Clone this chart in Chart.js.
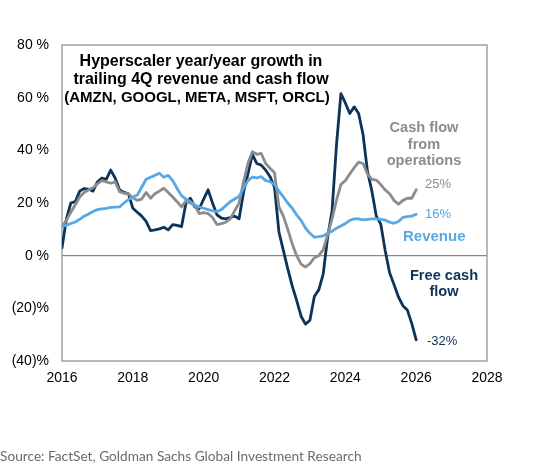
<!DOCTYPE html>
<html>
<head>
<meta charset="utf-8">
<script src="https://cdn.jsdelivr.net/npm/chart.js@4.4.1/dist/chart.umd.min.js"></script>
<style>
  html, body { margin: 0; padding: 0; background: #fff; }
  #wrap { width: 536px; height: 465px; }
</style>
</head>
<body>
<div id="wrap"><canvas id="myChart" width="536" height="465"></canvas></div>
<script>
// dates (fractional years, every 1/8 year)
var years = [
  2016, 2016.125, 2016.25, 2016.375, 2016.5, 2016.625, 2016.75, 2016.875,
  2017, 2017.125, 2017.25, 2017.375, 2017.5, 2017.625, 2017.75, 2017.875,
  2018, 2018.125, 2018.25, 2018.375, 2018.5, 2018.625, 2018.75, 2018.875,
  2019, 2019.125, 2019.25, 2019.375, 2019.5, 2019.625, 2019.75, 2019.875,
  2020, 2020.125, 2020.25, 2020.375, 2020.5, 2020.625, 2020.75, 2020.875,
  2021, 2021.125, 2021.25, 2021.375, 2021.5, 2021.625, 2021.75, 2021.875,
  2022, 2022.125, 2022.25, 2022.375, 2022.5, 2022.625, 2022.75, 2022.875,
  2023, 2023.125, 2023.25, 2023.375, 2023.5, 2023.625, 2023.75, 2023.875,
  2024, 2024.125, 2024.25, 2024.375, 2024.5, 2024.625, 2024.75, 2024.875,
  2025, 2025.125, 2025.25, 2025.375, 2025.5, 2025.625, 2025.75, 2025.875,
  2026
];

// revenue growth, %
var revenue = [
  11, 11.6, 12.2, 12.8, 13.8, 15, 15.8, 16.8,
  17.5, 17.8, 18, 18.3, 18.4, 18.5, 20, 21.3,
  22.3, 23, 26, 29, 29.8, 30.5, 31.3, 29.8,
  30.5, 28.5, 25.5, 22.8, 21.5, 20.5, 19.2, 18.5,
  18, 17.5, 17, 16.7, 17.5, 19, 20.5, 21.5,
  22.5, 25.5, 28.5, 29.8, 29.5, 30, 28.5, 28.1,
  27, 24.5, 22.3, 20, 18, 15.5, 13.4, 10.5,
  8.5, 7, 7.2, 7.5, 8.5, 9.3, 10.4, 11.3,
  12.2, 13.4, 14, 14, 13.6, 13.8, 14, 14,
  13.8, 13.5, 12.7, 12.3, 13, 14.5, 14.8, 15,
  15.7
];

// cash flow from operations growth, %
var cashFlowOps = [
  11, 13.5, 16.5, 19.3, 22.3, 24, 25, 25.8,
  27.3, 28.5, 28, 27.5, 28, 24.3, 23.7, 23.5,
  22, 21, 21.5, 24, 21.8, 23.5, 24.5, 25.6,
  24, 22.3, 20.5, 18.5, 20.8, 20, 19, 16,
  16.3, 16, 14.5, 11.8, 12.2, 12.7, 14, 17,
  20, 28, 35, 39.5, 38.5, 38.8, 35, 33.2,
  31.5, 18.5, 15, 10, 4.5, 0, -3.2, -4.3,
  -3, -0.8, 0, 2.2, 8, 14, 21, 27,
  28.5, 31, 33.4, 35.5, 35, 31, 29, 28.7,
  27, 25, 23.5, 21, 19.5, 21, 21.8, 21.8,
  25
];

// free cash flow growth, %
var freeCashFlow = [
  3, 14, 20, 20.5, 24.5, 25.5, 25.3, 24.5,
  28, 29.5, 29, 32.5, 29.5, 25, 24, 23.5,
  18, 16.5, 15, 13, 9.5, 9.8, 10.2, 10.8,
  9.8, 11.8, 11.5, 11, 20, 21.8, 18.5, 17.8,
  21.5, 25, 20, 15.5, 14.3, 14, 14.5, 15,
  14, 24, 31, 38.5, 35, 34.4, 32.5, 30,
  26, 9, 2, -5, -11.5, -17, -23, -26,
  -24.5, -15.5, -13, -7, 7, 17, 42, 61.5,
  58, 54, 56.5, 54, 46, 32, 24.5, 15,
  12, 2, -6.5, -11, -15.7, -19, -20.6, -25.7,
  -32
];

var yTicks = [-40, -20, 0, 20, 40, 60, 80];
var xTicks = [2016, 2018, 2020, 2022, 2024, 2026, 2028];

var NAVY = '#0c3358';
var GREY = '#8c8c8c';
var BLUE = '#58a8e4';
var ARIAL = '"Liberation Sans", Arial, sans-serif';

function toPoints(vals) {
    return years.map(function (x, i) { return { x: x, y: vals[i] }; });
}

// frame around the plot area + text annotations
var decorations = {
    id: 'decorations',
    beforeDatasetsDraw(chart) {
        var c = chart.ctx, a = chart.chartArea;
        c.save();
        c.strokeStyle = '#8a8a8a';
        c.lineWidth = 1.2;
        c.strokeRect(a.left, a.top, a.right - a.left, a.bottom - a.top);
        c.restore();
    },
    afterDraw(chart) {
        var c = chart.ctx;
        c.save();
        c.textBaseline = 'middle';
        c.textAlign = 'center';

        c.fillStyle = '#000';
        c.font = 'bold 16px ' + ARIAL;
        c.fillText('Hyperscaler year/year growth in', 201, 62);
        c.fillText('trailing 4Q revenue and cash flow', 201, 80);
        c.font = 'bold 15px ' + ARIAL;
        c.fillText('(AMZN, GOOGL, META, MSFT, ORCL)', 197, 98);

        c.fillStyle = GREY;
        c.font = 'bold 14.6px ' + ARIAL;
        c.fillText('Cash flow', 424, 128);
        c.fillText('from', 424, 145);
        c.fillText('operations', 424, 161);

        c.fillStyle = NAVY;
        c.fillText('Free cash', 444, 276);
        c.fillText('flow', 444, 292);

        c.fillStyle = BLUE;
        c.font = 'bold 15px ' + ARIAL;
        c.textAlign = 'left';
        c.fillText('Revenue', 403, 237);

        c.font = '13px ' + ARIAL;
        c.fillStyle = GREY;
        c.fillText('25%', 425, 184);
        c.fillStyle = BLUE;
        c.fillText('16%', 425, 214);
        c.fillStyle = NAVY;
        c.fillText('-32%', 427, 341);

        c.fillStyle = '#6b6b6b';
        c.font = '13.7px Lato, sans-serif';
        c.fillText('Source: FactSet, Goldman Sachs Global Investment Research', 0, 457);
        c.restore();
    }
};

var ctx = document.getElementById('myChart').getContext('2d');
new Chart(ctx, {
    type: 'line',
    data: {
        datasets: [{
            label: 'Revenue',
            data: toPoints(revenue),
            borderColor: BLUE,
            borderWidth: 2.8
        }, {
            label: 'Cash flow from operations',
            data: toPoints(cashFlowOps),
            borderColor: GREY,
            borderWidth: 2.8
        }, {
            label: 'Free cash flow',
            data: toPoints(freeCashFlow),
            borderColor: NAVY,
            borderWidth: 2.8
        }]
    },
    options: {
        responsive: false,
        animation: false,
        devicePixelRatio: 1,
        layout: { padding: { top: 45, right: 49, bottom: 74, left: 0 } },
        elements: {
            point: { radius: 0 },
            line: { tension: 0, borderJoinStyle: 'round', borderCapStyle: 'round' }
        },
        plugins: {
            legend: { display: false },
            tooltip: { enabled: false }
        },
        scales: {
            x: {
                type: 'linear',
                min: 2016,
                max: 2028,
                afterFit(scale) { scale.height = 30; },
                afterBuildTicks(scale) { scale.ticks = xTicks.map(function (v) { return { value: v }; }); },
                grid: { display: false, drawTicks: false },
                border: { display: false },
                ticks: {
                    color: '#000',
                    padding: 9,
                    maxRotation: 0,
                    font: { family: ARIAL, size: 14 },
                    callback: function (v) { return String(v); }
                }
            },
            y: {
                min: -40,
                max: 80,
                afterFit(scale) { scale.width = 62; },
                afterBuildTicks(scale) { scale.ticks = yTicks.map(function (v) { return { value: v }; }); },
                grid: {
                    drawTicks: false,
                    color: function (c) { return c.tick && c.tick.value === 0 ? '#8a8a8a' : 'rgba(0,0,0,0)'; },
                    lineWidth: 1.2
                },
                border: { display: false },
                ticks: {
                    color: '#000',
                    padding: 13,
                    font: { family: ARIAL, size: 14 },
                    callback: function (v) { return v < 0 ? '(' + (-v) + ')%' : v + ' %'; }
                }
            }
        }
    },
    plugins: [decorations]
});
</script>
</body>
</html>
